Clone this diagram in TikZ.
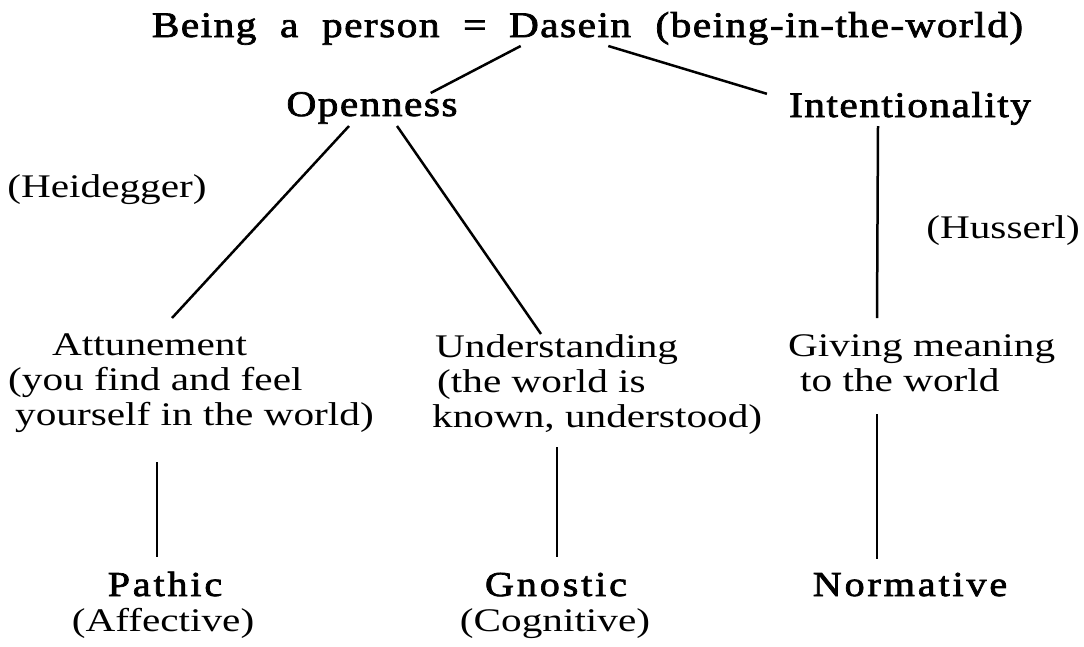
\documentclass[tikz,border=0pt]{standalone}
\usepackage{fontspec}
\usepackage{tikz}
\usetikzlibrary{calc}

\newfontfamily\serifbody[FakeStretch=1.25]{Liberation Serif}
\newfontfamily\serifhead[FakeStretch=1.15,FakeBold=2,LetterSpace=4]{Liberation Serif}
\newfontfamily\serifsub[FakeStretch=1.15,FakeBold=2,LetterSpace=8]{Liberation Serif}
\newcommand{\bodyfont}{\serifbody\fontsize{33}{35}\selectfont}
\newcommand{\headfont}{\serifhead\fontsize{36}{40}\selectfont}
\newcommand{\subheadfont}{\serifsub\fontsize{35}{38}\selectfont}

\begin{document}
\begin{tikzpicture}[
		x=1pt, y=-1pt,
		every node/.style={inner sep=0pt, font=\bodyfont},
		head/.style={font=\headfont},
		subhead/.style={font=\subheadfont},
		branch/.style={line width=2.5pt}
	]
  \useasboundingbox (0,0) rectangle (1084,646);
  \node (dasein) [head, anchor=base] at (570,37) {Dasein};
  \node (being) [head, anchor=base east] at ($(dasein.base west)+(-22,0)$) {Being~~a~~person~~=};
  \node (bitw) [head, anchor=base west] at ($(dasein.base east)+(24,0)$) {(being-in-the-world)};
  \node (open) [head, anchor=base] at (372,116) {Openness};
  \node (intent) [head, anchor=base] at (910,117) {Intentionality};
  \node (heid) [anchor=base] at (107,197) {(Heidegger)};
  \node (huss) [anchor=base east] at (1080,238) {(Husserl)};
  \node (att) [anchor=north west, align=left] at (8,334)
    {\hspace*{44pt}Attunement\\(you find and feel\\\hspace*{7pt}yourself in the world)};
  \node (und) [anchor=north west, align=left] at (432,334)
    {\hspace*{3pt}Understanding\\\hspace*{5pt}(the world is\\known, understood)};
  \node (giving) [anchor=north west, align=left] at (788,334)
    {Giving meaning\\\hspace*{12pt}to the world};
  \node (pathic) [subhead, anchor=base] at (165,596) {Pathic};
  \node (affect) [anchor=base] at (163,631) {(Affective)};
  \node (gnostic) [subhead, anchor=base] at (556,596) {Gnostic};
  \node (cogn) [anchor=base] at (555,631) {(Cognitive)};
  \node (norm) [subhead, anchor=base] at (910,596) {Normative};
  % tree
  \draw [branch] ($(dasein.base west)+(12,9)$) -- ($(open.north east)+(-27,1)$);
  \draw [branch] ($(dasein.base east)+(-23,9)$) -- ($(intent.north west)+(-22,2)$);
  \draw [branch] ($(open.base)+(-23,10)$) -- ($(att.north west)+(164,-16)$);
  \draw [branch] ($(open.base)+(25,10)$) -- ($(und.north west)+(109,0)$);
  \draw [branch] ($(intent.base)+(-32,9)$) -- ($(giving.north west)+(89,-16)$);
  \draw [branch] ($(pathic.north)+(-8,-15)$) -- ($(att.south -| pathic.north)+(-8,29)$);
  \draw [branch] ($(gnostic.north)+(1,-16)$) -- ($(und.south -| gnostic.north)+(1,13)$);
  \draw [branch] ($(norm.north)+(-33,-14)$) -- ($(giving.south -| norm.north)+(-33,22)$);
\end{tikzpicture}
\end{document}
